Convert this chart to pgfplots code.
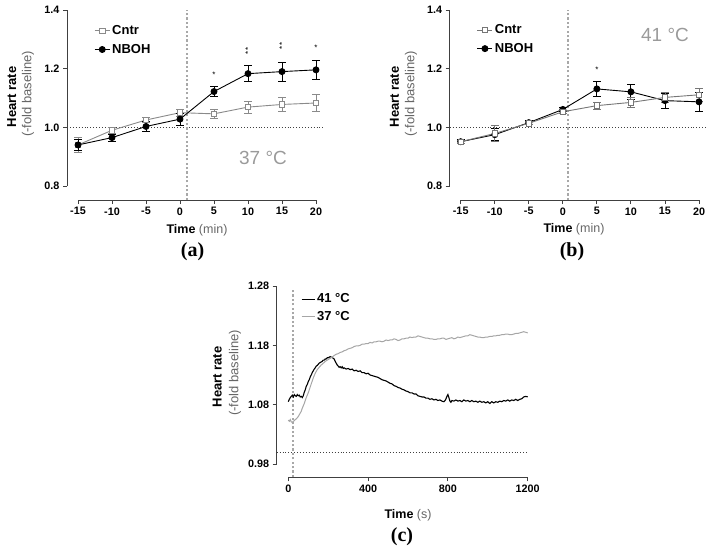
\documentclass[border=0pt]{standalone}
\usepackage{pgfplots}
\pgfplotsset{compat=1.18}
\usepackage{fontspec}
\setmainfont{Liberation Sans}
\newfontfamily\seriffont{Liberation Serif}
\definecolor{cgrayA}{HTML}{8A8A8A}
\definecolor{cgrayB}{HTML}{767676}
\definecolor{lblgray}{HTML}{666666}
\definecolor{tempgray}{HTML}{9A9A9A}
\definecolor{vline}{HTML}{A8A8A8}
\definecolor{axcol}{HTML}{404040}
\definecolor{trace37}{HTML}{A6A6A6}

\tikzset{starnode/.style={font=\fontsize{8}{8}\selectfont, inner sep=0},
  stars/.style={font=\fontsize{8}{8}\selectfont, inner sep=0, rotate=90, xshift=1.5pt}}
\pgfplotsset{
 prism/.style={
  scale only axis,
  axis x line=bottom, axis y line=left,
  axis line style={-, line width=0.9pt, draw=axcol},
  tick align=outside, major tick length=4pt,
  tick style={line width=0.9pt, axcol},
  tick label style={font=\bfseries\fontsize{10.8}{12}\selectfont},
  /pgf/number format/assume math mode=true,
  /pgf/number format/1000 sep={},
  clip=false,
  legend style={draw=none, fill=none, font=\bfseries\fontsize{13}{15}\selectfont, row sep=4pt},
  legend cell align=left,
 },
 errs/.style={error bars/.cd, y dir=both, y explicit,
   error bar style={line width=0.9pt},
   error mark options={rotate=90, mark size=3.8pt, line width=0.9pt}},
 mkleg/.style={legend image code/.code={\draw[mark repeat=2,mark phase=2] plot coordinates {(0pt,0pt) (7.5pt,0pt) (15pt,0pt)};}},
 lnleg/.style={legend image code/.code={\draw plot coordinates {(0pt,0pt) (13pt,0pt)};}},
 hdot/.style={forget plot, line width=0.8pt, color=black!75, dash pattern=on 0.9pt off 2pt},
 vdot/.style={forget plot, line width=2.4pt, color=vline, dash pattern=on 2.2pt off 2.2pt},
}

\begin{document}
\begin{tikzpicture}
\path[use as bounding box] (0,0) rectangle (708pt,-548pt);

% ---------------- panel (a)
\begin{axis}[prism, at={(78pt,-186pt)}, anchor=south west,
  width=238pt, height=176pt,
  xmin=-15, xmax=20, ymin=0.8, ymax=1.4,
  axis x line shift=14pt, axis y line shift=11pt,
  xtick={-15,-10,-5,0,5,10,15,20},
  ytick={0.8,1.0,1.2,1.4},
  yticklabel style={/pgf/number format/.cd, fixed, fixed zerofill, precision=1},
  legend style={at={(0.055,0.935)}, anchor=north west}, mkleg]
\addplot[hdot] coordinates {(-16.6,1) (21.3,1)};
\addplot[vdot] coordinates {(1,0.752) (1,1.4)};
\addplot[cgrayA, line width=0.9pt, mark=square*, mark size=2.8pt,
  mark options={fill=white, draw=cgrayA, line width=0.8pt}, errs]
  coordinates {(-15,0.940) +- (0,0.025) (-10,0.990) +- (0,0.010) (-5,1.025) +- (0,0.010)
  (0,1.050) +- (0,0.012) (5,1.046) +- (0,0.015) (10,1.069) +- (0,0.020)
  (15,1.078) +- (0,0.025) (20,1.083) +- (0,0.030)};
\addlegendentry{Cntr}
\addplot[black, line width=0.9pt, mark=*, mark size=3pt, errs]
  coordinates {(-15,0.940) +- (0,0.020) (-10,0.965) +- (0,0.012) (-5,1.003) +- (0,0.018)
  (0,1.028) +- (0,0.020) (5,1.122) +- (0,0.018) (10,1.183) +- (0,0.027)
  (15,1.190) +- (0,0.032) (20,1.196) +- (0,0.032)};
\addlegendentry{NBOH}
\node[starnode] at (axis cs:5,1.180) {*};
\node[stars] at (axis cs:10,1.256) {*\kern0.8pt*};
\node[stars] at (axis cs:15,1.271) {*\kern0.8pt*};
\node[starnode] at (axis cs:20,1.272) {*};
\end{axis}
\node[rotate=90, font=\bfseries\fontsize{13}{15}\selectfont] at (11.7pt,-97pt) {Heart rate};
\node[rotate=90, font=\fontsize{13}{15}\selectfont, text=lblgray] at (28pt,-94pt) {(-fold baseline)};
\node[font=\fontsize{12.5}{14}\selectfont] at (197pt,-230pt) {\textbf{Time} \textcolor{lblgray}{(min)}};
\node[font=\fontsize{19}{22}\selectfont, text=tempgray] at (263pt,-158pt) {37 °C};
\node[font=\seriffont\bfseries\fontsize{20}{22}\selectfont] at (192.5pt,-252pt) {(a)};

% ---------------- panel (b)
\begin{axis}[prism, at={(460.7pt,-186pt)}, anchor=south west,
  width=238.3pt, height=176pt,
  xmin=-15, xmax=20, ymin=0.8, ymax=1.4,
  axis x line shift=14pt, axis y line shift=11pt,
  xtick={-15,-10,-5,0,5,10,15,20},
  ytick={0.8,1.0,1.2,1.4},
  yticklabel style={/pgf/number format/.cd, fixed, fixed zerofill, precision=1},
  legend style={at={(0.055,0.94)}, anchor=north west}, reverse legend, mkleg]
\addplot[hdot] coordinates {(-16.6,1) (21.1,1)};
\addplot[vdot] coordinates {(0.8,0.752) (0.8,1.4)};
\addplot[black, line width=0.9pt, mark=*, mark size=3pt, errs]
  coordinates {(-15,0.951) +- (0,0.006) (-10,0.975) +- (0,0.020) (-5,1.016) +- (0,0.006)
  (0,1.061) +- (0,0.006) (5,1.131) +- (0,0.027) (10,1.121) +- (0,0.025)
  (15,1.091) +- (0,0.025) (20,1.087) +- (0,0.032)};
\addlegendentry{NBOH}
\addplot[cgrayB, line width=0.9pt, mark=square*, mark size=2.8pt,
  mark options={fill=white, draw=cgrayB, line width=0.8pt}, errs]
  coordinates {(-15,0.951) +- (0,0.005) (-10,0.979) +- (0,0.028) (-5,1.014) +- (0,0.005)
  (0,1.053) +- (0,0.006) (5,1.074) +- (0,0.012) (10,1.085) +- (0,0.018)
  (15,1.102) +- (0,0.018) (20,1.111) +- (0,0.022)};
\addlegendentry{Cntr}
\node[starnode] at (axis cs:5,1.195) {*};
\end{axis}
\node[rotate=90, font=\bfseries\fontsize{13}{15}\selectfont] at (394.4pt,-97pt) {Heart rate};
\node[rotate=90, font=\fontsize{13}{15}\selectfont, text=lblgray] at (411pt,-94pt) {(-fold baseline)};
\node[font=\fontsize{12.5}{14}\selectfont] at (574pt,-229pt) {\textbf{Time} \textcolor{lblgray}{(min)}};
\node[font=\fontsize{19}{22}\selectfont, text=tempgray] at (665pt,-35pt) {41 °C};
\node[font=\seriffont\bfseries\fontsize{20}{22}\selectfont] at (572pt,-252pt) {(b)};

% ---------------- panel (c)
\begin{axis}[prism, at={(288.3pt,-464pt)}, anchor=south west,
  width=239.4pt, height=178pt,
  xmin=0, xmax=1200, ymin=0.98, ymax=1.28,
  axis x line shift=13.3pt, axis y line shift=11.6pt,
  xtick={0,400,800,1200},
  ytick={0.98,1.08,1.18,1.28},
  yticklabel style={/pgf/number format/.cd, fixed, fixed zerofill, precision=2},
  legend style={at={(0.04,0.98)}, anchor=north west, row sep=3pt}, lnleg]
\addplot[hdot] coordinates {(-58,1) (1202,1)};
\addplot[vdot] coordinates {(25,0.958) (25,1.273)};
\addplot[black, line width=1.1pt] coordinates {
(0,1.085) (5,1.089) (10,1.092) (15,1.094) (20,1.096) (25,1.093) (30,1.097) (35,1.095) (40,1.094)
(45,1.097) (50,1.095) (55,1.096) (60,1.093) (65,1.094) (70,1.092) (75,1.095) (80,1.101) (85,1.105)
(90,1.111) (95,1.114) (100,1.119) (105,1.122) (110,1.127) (115,1.130) (120,1.134) (125,1.137)
(130,1.140) (135,1.142) (140,1.145) (145,1.146) (150,1.148) (155,1.150) (160,1.151) (165,1.152)
(170,1.153) (175,1.155) (180,1.155) (185,1.157) (190,1.157) (195,1.159) (200,1.159) (205,1.160)
(210,1.161) (215,1.160) (220,1.160) (225,1.158) (230,1.157) (235,1.153) (240,1.150) (245,1.147)
(250,1.145) (255,1.143) (260,1.144) (265,1.142) (270,1.144) (275,1.141) (280,1.142) (290,1.140)
(300,1.141) (310,1.139) (320,1.140) (330,1.137) (340,1.138) (350,1.136) (360,1.137) (370,1.134)
(380,1.134) (390,1.132) (400,1.133) (410,1.130) (420,1.129) (430,1.128) (440,1.127) (450,1.126)
(460,1.124) (470,1.122) (480,1.121) (490,1.120) (500,1.118) (510,1.116) (520,1.115) (530,1.112)
(540,1.111) (550,1.109) (560,1.108) (570,1.106) (580,1.105) (590,1.103) (600,1.102) (610,1.100)
(620,1.100) (630,1.098) (640,1.098) (650,1.095) (660,1.094) (670,1.093) (680,1.093) (690,1.091)
(700,1.091) (710,1.089) (720,1.090) (730,1.088) (740,1.089) (750,1.087) (760,1.088) (770,1.086)
(780,1.085) (788,1.088) (795,1.094) (800,1.097) (805,1.092) (810,1.086) (815,1.084) (820,1.087)
(830,1.086) (840,1.088) (850,1.086) (860,1.087) (870,1.085) (880,1.088) (890,1.086) (900,1.087)
(910,1.085) (920,1.087) (930,1.085) (940,1.086) (950,1.084) (960,1.086) (970,1.084) (980,1.085)
(990,1.083) (1000,1.085) (1010,1.082) (1020,1.085) (1030,1.083) (1040,1.085) (1050,1.084)
(1060,1.086) (1070,1.085) (1080,1.087) (1090,1.086) (1100,1.088) (1110,1.086) (1120,1.088)
(1130,1.087) (1140,1.089) (1150,1.087) (1160,1.089) (1170,1.090) (1180,1.093) (1190,1.094) (1200,1.093)};
\addlegendentry{41 °C}
\addplot[trace37, line width=1pt] coordinates {
(0,1.054) (5,1.052) (10,1.055) (15,1.051) (20,1.050) (25,1.052) (30,1.053) (35,1.055) (40,1.056)
(45,1.058) (50,1.060) (55,1.063) (60,1.066) (65,1.069) (70,1.074) (75,1.078) (80,1.082) (85,1.087)
(90,1.092) (95,1.096) (100,1.100) (105,1.105) (110,1.110) (115,1.115) (120,1.120) (125,1.125)
(130,1.129) (135,1.133) (140,1.136) (145,1.139) (150,1.141) (155,1.143) (160,1.145) (165,1.147)
(170,1.148) (175,1.150) (180,1.151) (185,1.153) (190,1.154) (195,1.155) (200,1.156) (210,1.158)
(220,1.160) (230,1.163) (240,1.165) (250,1.166) (260,1.168) (270,1.169) (280,1.171) (290,1.172)
(300,1.174) (310,1.175) (320,1.176) (330,1.178) (340,1.179) (350,1.179) (360,1.180) (370,1.182)
(380,1.182) (390,1.183) (400,1.183) (410,1.185) (420,1.184) (430,1.186) (440,1.186) (450,1.187)
(460,1.187) (470,1.186) (480,1.187) (490,1.189) (500,1.188) (510,1.189) (520,1.189) (530,1.191)
(540,1.190) (550,1.188) (560,1.189) (570,1.191) (580,1.191) (590,1.192) (600,1.192) (610,1.194)
(620,1.193) (630,1.194) (640,1.194) (650,1.196) (660,1.195) (670,1.194) (680,1.193) (690,1.192)
(700,1.192) (710,1.191) (720,1.191) (730,1.190) (740,1.190) (750,1.191) (760,1.191) (770,1.192)
(780,1.192) (790,1.190) (800,1.191) (810,1.192) (820,1.193) (830,1.191) (840,1.192) (850,1.194)
(860,1.193) (870,1.194) (880,1.195) (890,1.196) (900,1.196) (910,1.198) (920,1.197) (930,1.196)
(940,1.195) (950,1.194) (960,1.194) (970,1.193) (980,1.193) (990,1.194) (1000,1.194) (1010,1.195)
(1020,1.195) (1030,1.196) (1040,1.196) (1050,1.197) (1060,1.197) (1070,1.198) (1080,1.198)
(1090,1.199) (1100,1.199) (1110,1.198) (1120,1.198) (1130,1.199) (1140,1.200) (1150,1.200)
(1160,1.201) (1170,1.202) (1180,1.203) (1190,1.202) (1200,1.201)};
\addlegendentry{37 °C}
\end{axis}
\node[rotate=90, font=\bfseries\fontsize{13}{15}\selectfont] at (217.3pt,-377pt) {Heart rate};
\node[rotate=90, font=\fontsize{13}{15}\selectfont, text=lblgray] at (235pt,-373pt) {(-fold baseline)};
\node[font=\fontsize{12.5}{14}\selectfont] at (408pt,-515pt) {\textbf{Time} \textcolor{lblgray}{(s)}};
\node[font=\seriffont\bfseries\fontsize{20}{22}\selectfont] at (402pt,-537pt) {(c)};
\end{tikzpicture}
\end{document}
